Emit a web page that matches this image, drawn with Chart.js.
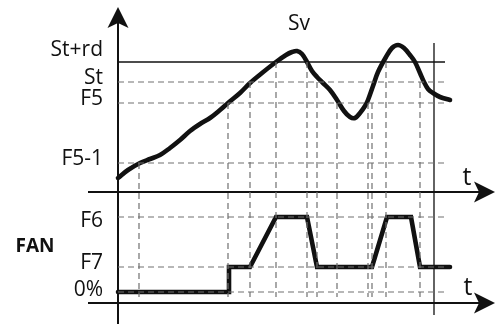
<!DOCTYPE html>
<html><head><meta charset="utf-8">
<script src="https://cdn.jsdelivr.net/npm/chart.js@4/dist/chart.umd.min.js"></script>
<style>html,body{margin:0;padding:0;background:#fff;overflow:hidden}</style>
</head><body>
<canvas id="c" width="496" height="324"></canvas>
<script>
// ---- data (diagram units: time from the vertical axis, level above the upper t axis) ----
const levelNames  = ['St+rd', 'St', 'F5', 'F5-1'];
const levelValues = [130, 110, 89, 29];
const fanNames    = ['F6', 'F7', '0%'];
const fanValues   = [-25, -75, -100];

const svTime  = [0, 10, 22, 32, 42, 52, 62, 72, 82, 92, 102, 110, 122, 132, 144, 158, 168, 174, 179, 184, 189, 194, 199, 205, 212, 219, 226, 232, 237, 242, 247, 250, 255, 260, 268, 274, 280, 286, 292, 297, 302, 306, 310, 315, 322, 332];
const svValue = [14, 22, 29, 33, 37, 44, 52, 61, 68, 74, 82, 89, 99, 109, 119, 130, 137, 140, 141, 138, 130, 121, 115, 109, 102, 92, 81, 75, 74, 79, 86, 92, 106, 120, 135, 144, 147, 144, 137, 130, 119, 110, 103, 99, 95, 92];

const fanTime  = [0, 111, 111, 132, 158, 189, 199, 254, 269, 293, 302, 332];
const fanLevel = ['0%', '0%', 'F7', 'F7', 'F6', 'F6', 'F7', 'F7', 'F6', 'F6', 'F7', 'F7'];

const eventTimes  = [21, 110, 132, 158, 189, 199, 219, 250, 254, 268, 302];
const eventLevels = ['F5-1', 'F5', 'St', 'St+rd', 'St+rd', 'St', 'F5', 'F5', 'F5', 'St+rd', 'St'];

const axisLabels = ['Sv', 'FAN', 't', 't'];

// ---- helpers ----
const lvl = n => { const i = levelNames.indexOf(n); return i >= 0 ? levelValues[i] : fanValues[fanNames.indexOf(n)]; };
const X_END = 327, X_AXIS_START = -30, TIP = 377, EVENT_BOTTOM = -105;
const LOWER_AXIS = -111, MARK_T = 316;

// stealth-style arrowhead used as point style (points up; rotated by Chart.js)
const arrow = document.createElement('canvas');
arrow.width = 22; arrow.height = 22;
(() => {
  const g = arrow.getContext('2d');
  g.fillStyle = '#111';
  g.beginPath();
  g.moveTo(11, 0); g.lineTo(21.5, 21); g.lineTo(11, 16); g.lineTo(0.5, 21); g.closePath();
  g.fill();
})();

const GREY = '#707070';
const datasets = [];
const dash = { borderColor: GREY, borderWidth: 1.2, borderDash: [6, 4], pointRadius: 0, tension: 0, fill: false };
const solid = (w) => ({ borderColor: '#111', borderWidth: w, pointRadius: 0, tension: 0, fill: false });

// vertical dashed event lines
eventTimes.forEach((t, i) => datasets.push(Object.assign({ data: [{ x: t, y: lvl(eventLevels[i]) }, { x: t, y: EVENT_BOTTOM }] }, dash)));
// horizontal dashed level lines
levelNames.forEach((n, i) => { if (i > 0) datasets.push(Object.assign({ data: [{ x: 0, y: levelValues[i] }, { x: X_END, y: levelValues[i] }] }, dash)); });
fanNames.forEach((n, i) => datasets.push(Object.assign({ data: [{ x: 0, y: fanValues[i] }, { x: X_END, y: fanValues[i] }] }, dash)));
// St+rd solid line
datasets.push(Object.assign({ data: [{ x: 0, y: levelValues[0] }, { x: X_END, y: levelValues[0] }] }, solid(1.3)));
// marker vertical line
datasets.push(Object.assign({ data: [{ x: MARK_T, y: 149 }, { x: MARK_T, y: -123 }] }, solid(1.3)));
// axes with arrow heads
const arrowAxis = (pts, rot) => Object.assign(solid(2), {
  data: pts, pointRadius: [0, 11], pointStyle: [false, arrow], pointRotation: [0, rot]
});
datasets.push(arrowAxis([{ x: X_AXIS_START, y: 0 }, { x: TIP - 11, y: 0 }], 90));
datasets.push(arrowAxis([{ x: X_AXIS_START, y: LOWER_AXIS }, { x: TIP - 11, y: LOWER_AXIS }], 90));
datasets.push(arrowAxis([{ x: 0, y: -132 }, { x: 0, y: 185 - 11 }], 0));
// Sv curve
datasets.push({ data: svTime.map((t, i) => ({ x: t, y: svValue[i] })), borderColor: '#111', borderWidth: 4.6,
  borderCapStyle: 'round', borderJoinStyle: 'round', pointRadius: 0, tension: 0.35, fill: false });
// FAN curve
datasets.push({ data: fanTime.map((t, i) => ({ x: t, y: lvl(fanLevel[i]) })), borderColor: '#111', borderWidth: 4.6,
  borderCapStyle: 'round', borderJoinStyle: 'miter', pointRadius: 0, tension: 0, fill: false });

// text labels plugin (positions via scales)
const labelPlugin = {
  id: 'labels',
  afterDatasetsDraw(chart) {
    const { ctx, scales: { x, y } } = chart;
    ctx.save();
    ctx.fillStyle = '#111';
    ctx.textBaseline = 'middle';
    ctx.textAlign = 'right';
    ctx.font = '21px "Open Sans"';
    const lx = x.getPixelForValue(-15);
    const upOff = [-12, -4, -4, -4];
    levelNames.forEach((n, i) => ctx.fillText(n, lx, y.getPixelForValue(levelValues[i]) + upOff[i]));
    const lowOff = [4, -4, -2];
    fanNames.forEach((n, i) => ctx.fillText(n, lx, y.getPixelForValue(fanValues[i]) + lowOff[i]));
    ctx.textAlign = 'center';
    ctx.fillText(axisLabels[0], x.getPixelForValue(181), y.getPixelForValue(168));
    ctx.font = 'bold 19px "Open Sans"';
    ctx.fillText(axisLabels[1], x.getPixelForValue(-83), y.getPixelForValue(-55));
    ctx.font = '25px "Open Sans"';
    ctx.textBaseline = 'alphabetic';
    ctx.fillText(axisLabels[2], x.getPixelForValue(349), y.getPixelForValue(7));
    ctx.fillText(axisLabels[3], x.getPixelForValue(350), y.getPixelForValue(-103));
    ctx.restore();
  }
};

new Chart(document.getElementById('c'), {
  type: 'line',
  data: { datasets },
  options: {
    responsive: false, animation: false, events: [],
    layout: { padding: 0, autoPadding: false },
    plugins: { legend: { display: false }, tooltip: { enabled: false } },
    scales: {
      x: { type: 'linear', min: -118, max: 378, display: false },
      y: { type: 'linear', min: -132, max: 192, display: false }
    }
  },
  plugins: [labelPlugin]
});
</script>
</body></html>
